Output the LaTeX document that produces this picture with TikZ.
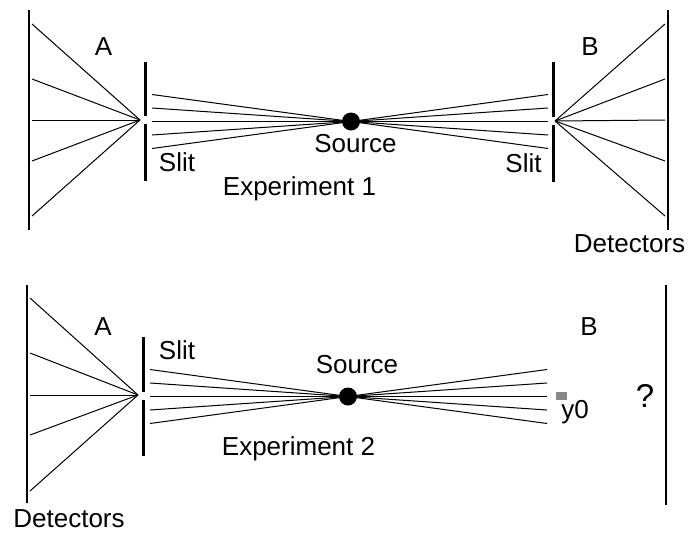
\documentclass[tikz,border=0pt]{standalone}
\usepackage{fontspec}
\setmainfont{Liberation Sans}
\definecolor{markgray}{RGB}{136,136,136}
\begin{document}
\begin{tikzpicture}[x=1pt,y=-1pt,
  lbl/.style={anchor=base,inner sep=0pt,font=\fontsize{26}{31}\selectfont},
  biglbl/.style={anchor=base,inner sep=0pt,font=\fontsize{33}{38}\selectfont},
  ray/.style={line width=1pt},
  screen/.style={line width=2.4pt},
  slitbar/.style={line width=3pt},
  srcdot/.style={circle,fill=black,inner sep=0pt,minimum size=18pt},
  graymark/.style={fill=markgray,inner sep=0pt,minimum width=11pt,minimum height=8pt}]
\useasboundingbox (0,0) rectangle (688,533);

% ---------------- Experiment 1 ----------------
\node[srcdot] (s1) at (351,121.5) {};
\coordinate (a1) at (140,120);
\coordinate (b1) at (555,121);
% detector screens
\draw[screen] (29,10) -- (29,230);
\draw[screen] (668,10) -- (668,230);
% slits
\draw[slitbar] (145,62) -- (145,116);
\draw[slitbar] (145,124) -- (145,181);
\draw[slitbar] (553,62) -- (553,117);
\draw[slitbar] (553,125) -- (553,182);
% rays source -> slits
\foreach \dy [count=\i] in {-27,-13.5,0,13.5,27} {
  \coordinate (p1l\i) at (152,{121.5+(\dy)});
  \coordinate (p1r\i) at (548,{121.5+(\dy)});
  \draw[ray] (s1.center) -- (p1l\i);
  \draw[ray] (s1.center) -- (p1r\i);
}
% fans slit -> detectors
\foreach \yy [count=\i] in {24,79,120,161,216} {
  \coordinate (d1l\i) at (32,\yy);
  \coordinate (d1r\i) at (665,\yy);
  \draw[ray] (a1) -- (d1l\i);
  \draw[ray] (b1) -- (d1r\i);
}
\node[lbl] (A1) at (103.5,55) {A};
\node[lbl] (B1) at (590,55) {B};
\node[lbl] (slitA1) at (177,171) {Slit};
\node[lbl] (slitB1) at (523.5,172) {Slit};
\node[lbl] (src1) at (355.5,152) {Source};
\node[lbl] (exp1) at (299.5,195) {Experiment 1};
\node[lbl] (det1) at (629.5,252) {Detectors};

% ---------------- Experiment 2 ----------------
\node[srcdot] (s2) at (348,396.5) {};
\coordinate (a2) at (138,395);
\draw[screen] (27,285) -- (27,503);
\draw[screen] (666,285) -- (666,505);
\draw[slitbar] (143,337) -- (143,392);
\draw[slitbar] (143,400) -- (143,456);
\foreach \dy [count=\i] in {-27,-13.5,0,13.5,27} {
  \coordinate (p2l\i) at (150,{396.5+(\dy)});
  \coordinate (p2r\i) at (547,{396.5+(\dy)});
  \draw[ray] (s2.center) -- (p2l\i);
  \draw[ray] (s2.center) -- (p2r\i);
}
\foreach \yy [count=\i] in {298,353,395,435,491} {
  \coordinate (d2l\i) at (30,\yy);
  \draw[ray] (a2) -- (d2l\i);
}
\node[graymark] (y0mark) at (561.5,396) {};
\node[lbl] (A2) at (103,335) {A};
\node[lbl] (B2) at (589,335) {B};
\node[lbl] (slitA2) at (177,359) {Slit};
\node[lbl] (src2) at (357,373) {Source};
\node[lbl] (exp2) at (298.5,455) {Experiment 2};
\node[lbl] (det2) at (69,527) {Detectors};
\node[biglbl] (qm) at (645,407) {?};
\node[lbl] (y0) at (575,418) {y0};
\end{tikzpicture}
\end{document}
